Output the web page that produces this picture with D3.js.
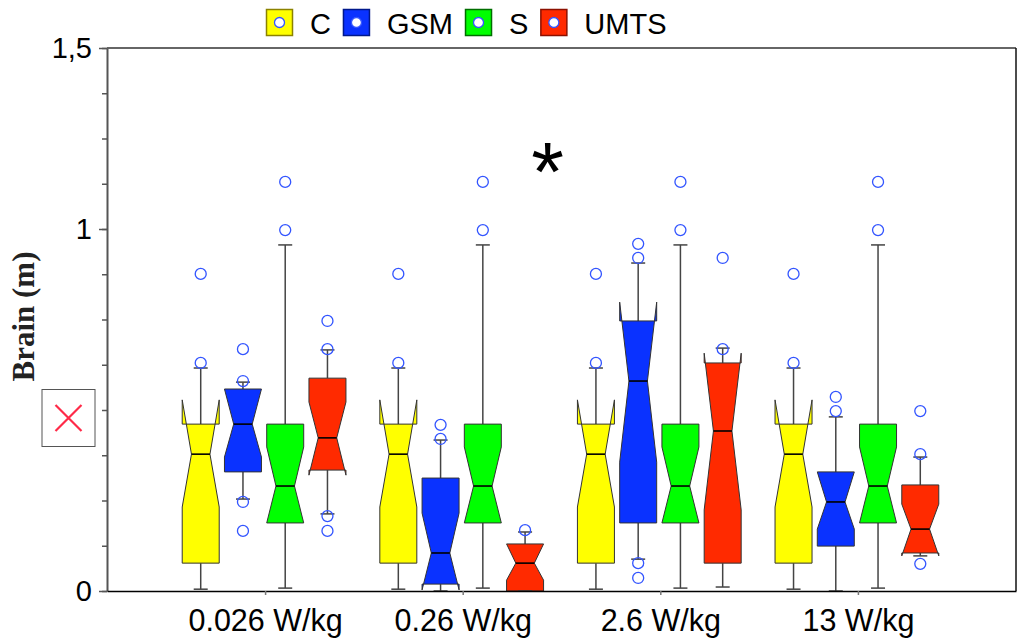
<!DOCTYPE html>
<html>
<head>
<meta charset="utf-8">
<script src="https://cdn.jsdelivr.net/npm/d3@7"></script>
<style>
  body { margin: 0; background: #fff; }
  svg { display: block; }
</style>
</head>
<body>
<div id="chart"></div>
<script>
// groups on the x axis and the four series
const groups = ['0.026 W/kg', '0.26 W/kg', '2.6 W/kg', '13 W/kg'];
const seriesNames = ['C', 'GSM', 'S', 'UMTS'];
const seriesColors = ['#ffff00', '#0a32ff', '#00ff00', '#ff2a00'];
const seriesBorders = ['#8c8200', '#00188c', '#006e00', '#8c1000'];

// box stats per group: [lo whisker, q1, notch lo, median, notch hi, q3, hi whisker]
const statsC = [
  [0.005, 0.077, 0.232, 0.378, 0.528, 0.461, 0.616],
  [0.005, 0.077, 0.232, 0.378, 0.528, 0.461, 0.616],
  [0.005, 0.077, 0.232, 0.378, 0.528, 0.461, 0.616],
  [0.005, 0.077, 0.232, 0.378, 0.528, 0.461, 0.616]
];
const statsGSM = [
  [0.254, 0.329, 0.370, 0.461, 0.558, 0.558, 0.577],
  [0.000, 0.019, 0.003, 0.105, 0.215, 0.312, 0.417],
  [0.088, 0.188, 0.356, 0.580, 0.798, 0.746, 0.906],
  [0.000, 0.124, 0.171, 0.246, 0.329, 0.329, 0.481]
];
const statsS = [
  [0.008, 0.188, 0.188, 0.290, 0.398, 0.461, 0.956],
  [0.008, 0.188, 0.188, 0.290, 0.398, 0.461, 0.956],
  [0.008, 0.188, 0.188, 0.290, 0.398, 0.461, 0.956],
  [0.008, 0.188, 0.188, 0.290, 0.398, 0.461, 0.956]
];
const statsUMTS = [
  [0.213, 0.334, 0.320, 0.423, 0.522, 0.588, 0.666],
  [0.000, 0.000, 0.030, 0.077, 0.130, 0.130, 0.163],
  [0.011, 0.077, 0.224, 0.442, 0.657, 0.630, 0.671],
  [0.097, 0.105, 0.097, 0.171, 0.240, 0.293, 0.370]
];

// outliers per group
const outC = [[0.630, 0.876], [0.630, 0.876], [0.630, 0.876], [0.630, 0.876]];
const outGSM = [[0.166, 0.246, 0.580, 0.668], [0.420, 0.459], [0.036, 0.077, 0.920, 0.959], [0.497, 0.536]];
const outS = [[0.997, 1.13], [0.997, 1.13], [0.997, 1.13], [0.997, 1.13]];
const outUMTS = [[0.166, 0.207, 0.668, 0.746], [0.168], [0.668, 0.920], [0.075, 0.378, 0.497]];

const yMajor = [0, 1, 1.5];
const yMinor = [0, 0.125, 0.25, 0.375, 0.5, 0.625, 0.75, 0.875, 1, 1.125, 1.25, 1.375, 1.5];
const sigGroup = 2.43;   // asterisk position (x in group units)
const sigValue = 1.185;

const allStats = [statsC, statsGSM, statsS, statsUMTS];
const allOut = [outC, outGSM, outS, outUMTS];

const width = 1018, height = 641;
const margin = {top: 48, right: 2, bottom: 50, left: 107};

const svg = d3.select('#chart').append('svg')
    .attr('width', width)
    .attr('height', height);

const x = d3.scaleLinear()
    .domain([0.2, 4.8])
    .range([margin.left, width - margin.right]);

const y = d3.scaleLinear()
    .domain([0, 1.5])
    .range([height - margin.bottom, margin.top]);

const sx = d3.scaleBand()
    .domain(seriesNames)
    .range([-85.5, 83.5]);

const boxW = 37;
const capW = 14;

// frame: top and right
svg.append('line')
    .attr('x1', x.range()[0]).attr('x2', x.range()[1])
    .attr('y1', y(1.5)).attr('y2', y(1.5))
    .attr('stroke', '#666').attr('stroke-width', 2);
svg.append('line')
    .attr('x1', x.range()[1]).attr('x2', x.range()[1])
    .attr('y1', y(1.5)).attr('y2', y(0))
    .attr('stroke', '#111').attr('stroke-width', 1.5);

// boxes
const plot = svg.append('g');

allStats.forEach((stats, si) => {
  stats.forEach((s, gi) => {
    const [lo, q1, nlo, med, nhi, q3, hi] = s;
    const cx = x(gi + 1) + sx(seriesNames[si]) + sx.bandwidth() / 2;
    const xl = cx - boxW / 2, xr = cx + boxW / 2, n = boxW / 4;
    const g = plot.append('g');

    // whiskers
    g.append('line')
        .attr('x1', cx).attr('x2', cx).attr('y1', y(q3)).attr('y2', y(hi))
        .attr('stroke', '#444').attr('stroke-width', 1.5);
    g.append('line')
        .attr('x1', cx).attr('x2', cx).attr('y1', y(q1)).attr('y2', y(lo))
        .attr('stroke', '#444').attr('stroke-width', 1.5);

    // notched box, drawn like R does (folds when notch passes the hinge)
    const pts = [
      [xl, y(q1)], [xl, y(nlo)], [xl + n, y(med)], [xl, y(nhi)], [xl, y(q3)],
      [xr, y(q3)], [xr, y(nhi)], [xr - n, y(med)], [xr, y(nlo)], [xr, y(q1)]
    ];
    g.append('path')
        .attr('d', d3.line()(pts) + 'Z')
        .attr('fill', seriesColors[si])
        .attr('stroke', '#333')
        .attr('stroke-width', 1)
        .attr('stroke-linejoin', 'miter');

    g.append('line')
        .attr('x1', xl + n).attr('x2', xr - n).attr('y1', y(med)).attr('y2', y(med))
        .attr('stroke', '#000').attr('stroke-width', 1.6);

    // caps
    [hi, lo].forEach(v => {
      g.append('line')
          .attr('x1', cx - capW / 2).attr('x2', cx + capW / 2)
          .attr('y1', y(v)).attr('y2', y(v))
          .attr('stroke', '#444').attr('stroke-width', 1.5);
    });

    g.selectAll('circle')
      .data(allOut[si][gi])
      .join('circle')
        .attr('cx', cx)
        .attr('cy', d => y(d))
        .attr('r', 5.5)
        .attr('fill', 'none')
        .attr('stroke', '#3355ff')
        .attr('stroke-width', 1.3);
  });
});

// y axis
svg.append('g')
    .attr('transform', `translate(${margin.left},0)`)
    .call(d3.axisLeft(y).tickValues(yMinor).tickSize(5).tickFormat('').tickSizeOuter(0))
    .call(g => g.select('.domain').remove())
    .call(g => g.selectAll('line').attr('stroke', '#555').attr('stroke-width', 1.5));

svg.append('g')
    .attr('transform', `translate(${margin.left},0)`)
    .call(d3.axisLeft(y).tickValues(yMajor).tickSize(8).tickPadding(7).tickSizeOuter(0)
      .tickFormat(d => String(d).replace('.', ',')))
    .call(g => g.select('.domain').attr('stroke', '#555').attr('stroke-width', 2))
    .call(g => g.selectAll('line').attr('stroke', '#555').attr('stroke-width', 1.5))
    .call(g => g.selectAll('text')
      .attr('font-family', 'Liberation Sans, Arial, sans-serif')
      .attr('font-size', 29)
      .attr('fill', '#000'));

// broken image icon where the 0,5 label sits
const icon = svg.append('g')
    .attr('transform', `translate(68.5,${y(0.5) + 8})`);
icon.append('rect')
    .attr('x', -26.5).attr('y', -28.5).attr('width', 53).attr('height', 57)
    .attr('fill', '#fff').attr('stroke', '#555').attr('stroke-width', 1);
icon.append('path')
    .attr('d', 'M-13,-13L13,13M13,-13L-13,13')
    .attr('stroke', '#ff2a48').attr('stroke-width', 2.2);

// x axis
svg.append('g')
    .attr('transform', `translate(0,${y(0)})`)
    .call(d3.axisBottom(x).tickValues([1, 2, 3, 4]).tickSize(4).tickPadding(14).tickSizeOuter(0)
      .tickFormat(d => groups[d - 1]))
    .call(g => g.select('.domain').attr('stroke', '#000').attr('stroke-width', 1.5))
    .call(g => g.selectAll('line').attr('stroke', '#777').attr('stroke-width', 1.5))
    .call(g => g.selectAll('text')
      .attr('font-family', 'Liberation Sans, Arial, sans-serif')
      .attr('font-size', 30.5)
      .attr('fill', '#000'));

// y title
svg.append('text')
    .attr('transform', `translate(34,${y(0.75) - 3}) rotate(-90)`)
    .attr('text-anchor', 'middle')
    .attr('font-family', 'Liberation Serif, Times New Roman, serif')
    .attr('font-weight', 'bold')
    .attr('font-size', 31)
    .attr('fill', '#222')
    .text('Brain (m)');

// significance asterisk; the glyph sits high in its font box, so push it down a bit
const star = svg.append('text')
    .attr('font-family', 'Liberation Sans, Arial, sans-serif')
    .attr('font-size', 84)
    .attr('fill', '#000')
    .text('*');
const bb = star.node().getBBox();
star.attr('x', x(sigGroup) - bb.x - bb.width / 2)
    .attr('y', y(sigValue) - (bb.y + bb.height * 0.5) + 10);

// legend
const legend = svg.append('g').attr('transform', 'translate(266,9)');
let lx = 0;
seriesNames.forEach((name, i) => {
  const item = legend.append('g').attr('transform', `translate(${lx},0)`);
  item.append('rect')
      .attr('x', 0.5).attr('y', 0.5).attr('width', 26).attr('height', 26)
      .attr('fill', seriesColors[i])
      .attr('stroke', seriesBorders[i])
      .attr('stroke-width', 1.5);
  item.append('circle')
      .attr('cx', 13.5).attr('cy', 13.5).attr('r', 5)
      .attr('fill', '#fff')
      .attr('stroke', '#3355ff')
      .attr('stroke-width', 1.3);
  const t = item.append('text')
      .attr('x', 44).attr('y', 25)
      .attr('font-family', 'Liberation Sans, Arial, sans-serif')
      .attr('font-size', 29)
      .attr('fill', '#000')
      .text(name);
  lx += 44 + t.node().getComputedTextLength() + 12;
});
</script>
</body>
</html>
